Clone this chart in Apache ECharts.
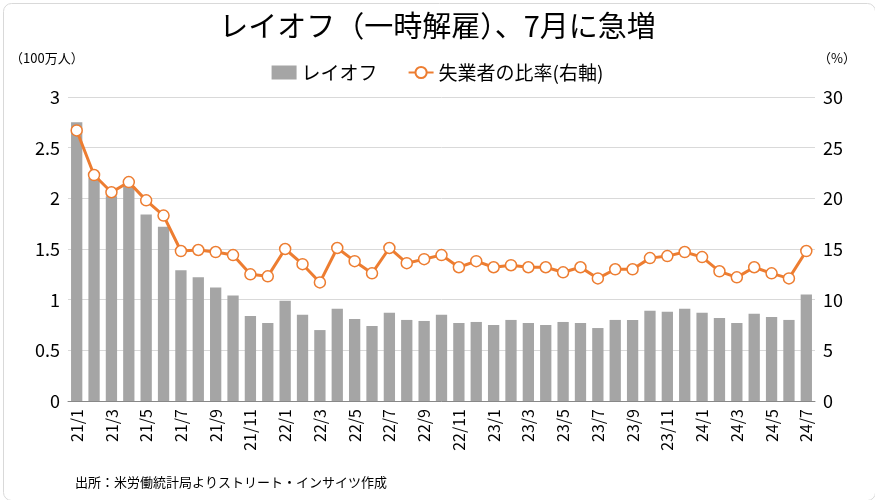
<!DOCTYPE html><html><head><meta charset="utf-8"><script src="https://cdn.jsdelivr.net/npm/echarts@6/dist/echarts.min.js"></script>
<style>body{margin:0}#c{width:875px;height:500px}</style></head><body><div id="c"></div><script>
const categories=[];for(let y=21;y<=24;y++)for(let m=1;m<=12;m++){if(y===24&&m>7)break;categories.push(y+'/'+m);}
const layoffs=[2.75,2.2,2.02,2.12,1.84,1.72,1.29,1.22,1.12,1.04,0.84,0.77,0.99,0.85,0.70,0.91,0.81,0.74,0.87,0.80,0.79,0.85,0.77,0.78,0.75,0.80,0.77,0.75,0.78,0.77,0.72,0.80,0.80,0.89,0.88,0.91,0.87,0.82,0.77,0.86,0.83,0.80,1.05];
const rate=[26.7,22.3,20.6,21.6,19.8,18.3,14.8,14.9,14.7,14.4,12.5,12.3,15.0,13.5,11.7,15.1,13.8,12.6,15.1,13.6,14.0,14.4,13.2,13.8,13.2,13.4,13.2,13.2,12.7,13.2,12.1,13.0,13.0,14.1,14.3,14.7,14.2,12.8,12.2,13.2,12.6,12.1,14.8];
const F='"Noto Sans CJK JP","Noto Sans",sans-serif';
const ch=echarts.init(document.getElementById('c'));
ch.setOption({textStyle:{fontFamily:F},
title:{text:'レイオフ（一時解雇）、7月に急増',left:'center',top:6,textStyle:{fontSize:29,fontWeight:'normal',color:'#000',fontFamily:F}},
legend:{top:58,left:'center',itemGap:30,textStyle:{fontSize:19,color:'#000'},data:[{name:'レイオフ',icon:'rect'},{name:'失業者の比率(右軸)'}]},
graphic:[{type:'rect',left:1,top:1,shape:{width:872,height:497,r:8},style:{fill:'none',stroke:'#d9d9d9',lineWidth:1}},
{type:'text',left:10,top:52,style:{text:'（100万人）',fontSize:13,fill:'#000',fontFamily:F}},
{type:'text',left:818,top:52,style:{text:'（%）',fontSize:13,fill:'#000',fontFamily:F}},
{type:'text',left:75,top:476,style:{text:'出所：米労働統計局よりストリート・インサイツ作成',fontSize:13,fill:'#000',fontFamily:F}}],
grid:{left:68,right:60,top:97,bottom:99},
xAxis:{type:'category',data:categories,axisLabel:{interval:1,rotate:90,fontSize:16,color:'#000'},axisTick:{interval:0,lineStyle:{color:'#888'}},axisLine:{lineStyle:{color:'#888'}}},
yAxis:[{type:'value',min:0,max:3,interval:0.5,axisLabel:{fontSize:18,color:'#000'},splitLine:{lineStyle:{color:'#d9d9d9'}}},
{type:'value',min:0,max:30,interval:5,axisLabel:{fontSize:18,color:'#000'},splitLine:{show:false}}],
series:[{name:'レイオフ',type:'bar',data:layoffs,barWidth:'65%',itemStyle:{color:'#a5a5a5'}},
{name:'失業者の比率(右軸)',type:'line',yAxisIndex:1,data:rate,symbol:'circle',symbolSize:11,lineStyle:{color:'#ed7d31',width:3},itemStyle:{color:'#fff',borderColor:'#ed7d31',borderWidth:1.5}}]});
</script></body></html>
